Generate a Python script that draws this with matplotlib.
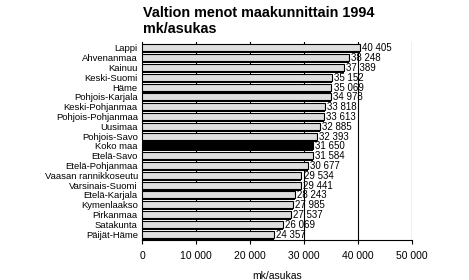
import matplotlib
matplotlib.use("Agg")
import matplotlib.pyplot as plt
import numpy as np

regions = ["Lappi", "Ahvenanmaa", "Kainuu", "Keski-Suomi", "Häme", "Pohjois-Karjala",
           "Keski-Pohjanmaa", "Pohjois-Pohjanmaa", "Uusimaa", "Pohjois-Savo", "Koko maa",
           "Etelä-Savo", "Etelä-Pohjanmaa", "Vaasan rannikkoseutu", "Varsinais-Suomi",
           "Etelä-Karjala", "Kymenlaakso", "Pirkanmaa", "Satakunta", "Päijät-Häme"]
values = [40405, 38248, 37389, 35152, 35069, 34978, 33818, 33613, 32885, 32393, 31650,
          31584, 30677, 29534, 29441, 28243, 27985, 27537, 26069, 24357]
xticks = [0, 10000, 20000, 30000, 40000, 50000]
xticklabels = ["0", "10 000", "20 000", "30 000", "40 000", "50 000"]
highlight = "Koko maa"
title1 = "Valtion menot maakunnittain 1994"
title2 = "mk/asukas"

plt.rcParams['font.family'] = ['Liberation Sans', 'DejaVu Sans']

fig = plt.figure(figsize=(4.69, 2.80), dpi=100)
ax = fig.add_axes([142/469, 1-240/280, (412-142)/469, (240-42)/280])

y = np.arange(len(regions))
h = 0.72
colors = ["black" if r == highlight else "#dedede" for r in regions]
# shadow
ax.barh(y + 0.2, values, height=h, color="black", zorder=2, linewidth=0)
ax.barh(y, values, height=h, color=colors, edgecolor="black", linewidth=0.8, zorder=3)

for yi, v in zip(y, values):
    ax.text(v + 400, yi + 0.05, f"{v:,}".replace(",", " "), va="center", ha="left",
            fontsize=7, zorder=4)

ax.set_xlim(0, 50000)
ax.set_ylim(len(regions) - 0.4, -0.6)
ax.set_yticks(y)
ax.set_yticklabels(regions, fontsize=6.8)
ax.set_xticks(xticks)
ax.set_xticklabels(xticklabels, fontsize=7.5)
ax.tick_params(axis='y', length=0, pad=3)
ax.tick_params(axis='x', length=3, width=0.8, pad=5)
for t in xticks[1:]:
    ax.axvline(t, color="black", linewidth=0.8, zorder=1)
for s in ["top", "right"]:
    ax.spines[s].set_visible(False)
ax.spines["left"].set_linewidth(0.8)
ax.spines["bottom"].set_linewidth(0.8)
ax.set_xlabel("mk/asukas", fontsize=7.5, labelpad=7)

fig.text(143/469, 1-17/280, title1, ha="left", va="baseline",
         fontsize=10.4, fontweight="bold")
fig.text(143/469, 1-33/280, title2, ha="left", va="baseline",
         fontsize=10.4, fontweight="bold")

fig.savefig("out.png", dpi=100)
